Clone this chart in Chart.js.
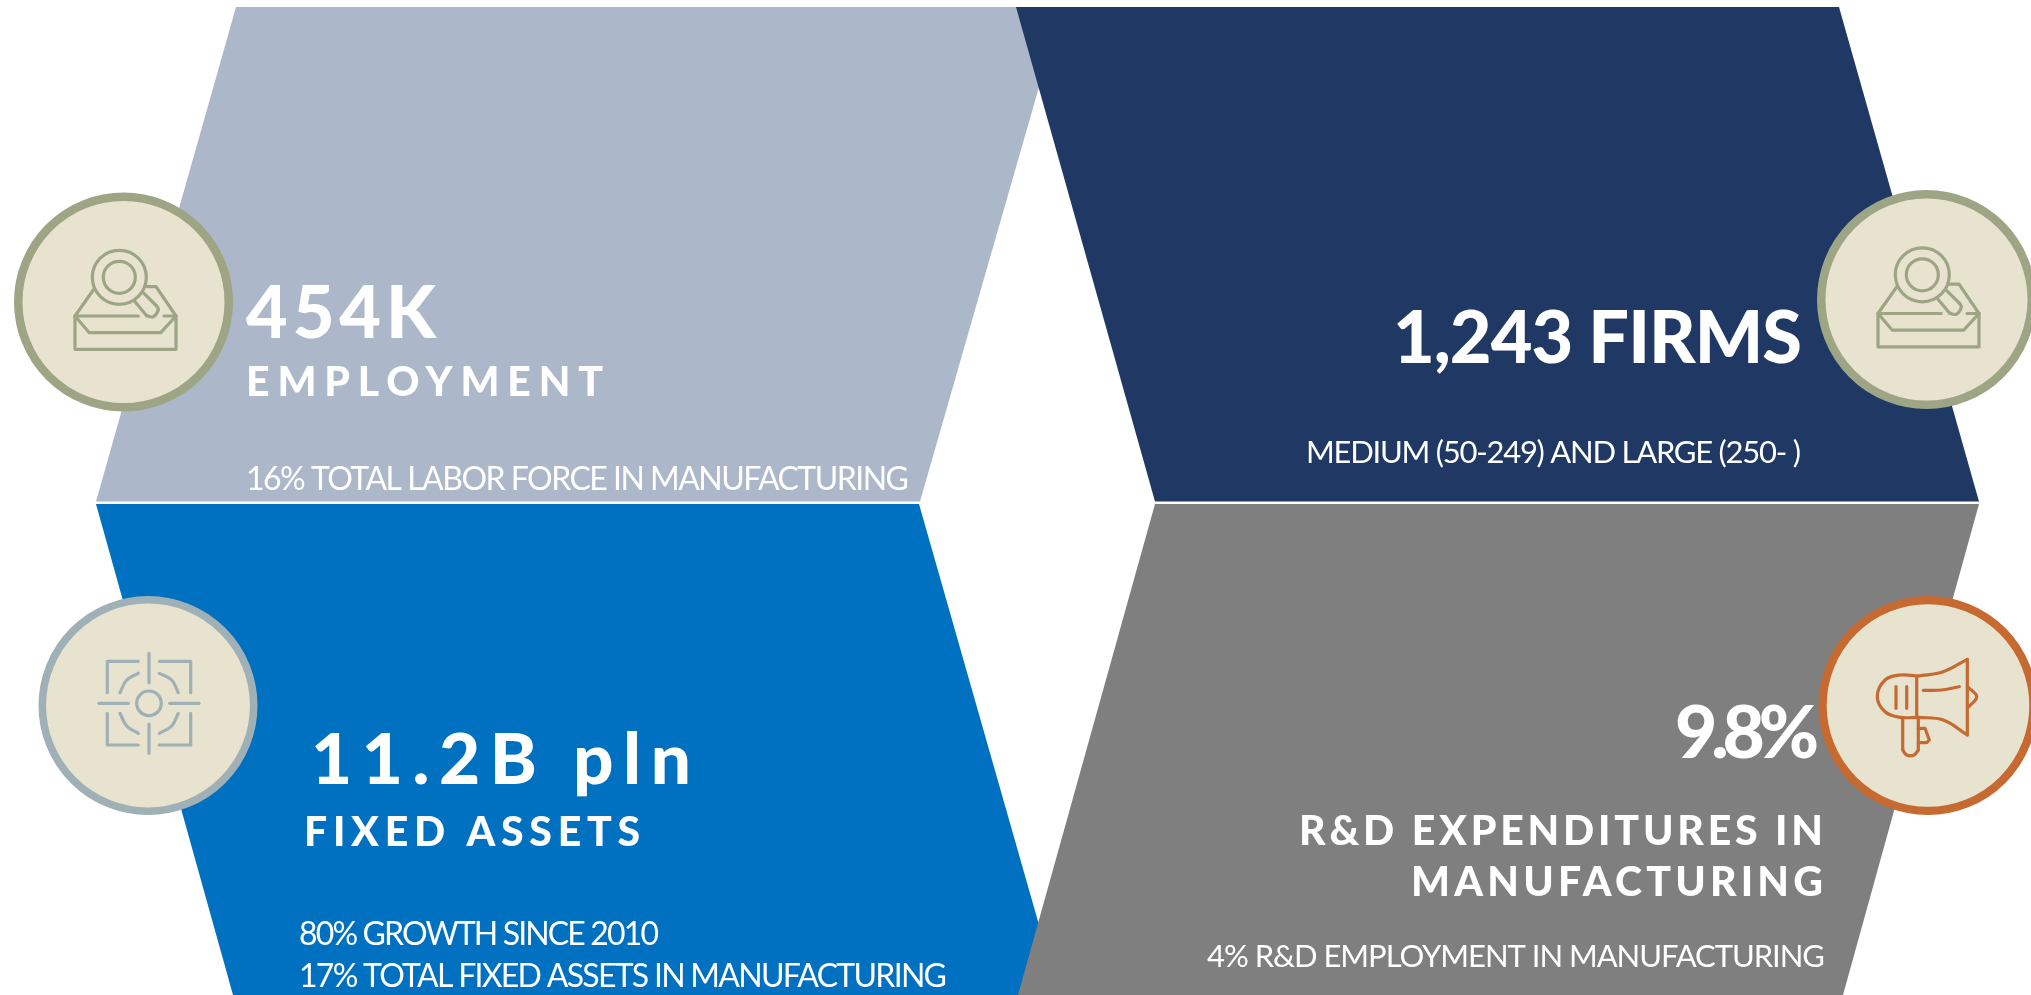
<!DOCTYPE html>
<html>
<head>
<meta charset="utf-8">
<title>Manufacturing overview</title>
<script src="https://cdn.jsdelivr.net/npm/chart.js@4"></script>
<style>
    html, body { margin: 0; padding: 0; background: #ffffff; overflow: hidden; }
    canvas { display: block; }
</style>
</head>
<body>
<canvas id="chart-panels" width="2031" height="995"></canvas>
<script>
// Text of the four panels
const headlines = ["454K", "1,243 FIRMS", "11.2B pln", "9.8%"];
const titles = ["EMPLOYMENT", "FIXED ASSETS", "R&D EXPENDITURES IN", "MANUFACTURING"];
const notes = [
    "16% TOTAL LABOR FORCE IN MANUFACTURING",
    "MEDIUM (50-249) AND LARGE (250- )",
    "80% GROWTH SINCE 2010",
    "17% TOTAL FIXED ASSETS IN MANUFACTURING",
    "4% R&D EMPLOYMENT IN MANUFACTURING"
];

// Panel outlines, in axis units
const employmentPanel = [[236, 7], [1062, 7], [920, 501.5], [96, 501.5]];
const firmsPanel = [[1016, 7], [1839, 7], [1979, 501.5], [1155, 501.5]];
const assetsPanel = [[96, 504], [919, 504], [1059, 995], [233, 995]];
const researchPanel = [[1155, 504], [1979, 504], [1843, 995], [1018, 995]];

// Badge centres
const badgeCentres = [[123.5, 302], [1926.5, 299.5], [148, 705.5], [1928, 705.5]];

// Icon strokes, as offsets from the badge centre
const boxStraight = [
    [[-30.2, -12], [-48.5, 14], [14.8, 14]],
    [[23.2, -15.3], [32.5, -15.3], [52.5, 14], [40.5, 14]],
    [[-48.5, 14], [-48.5, 47.3], [52.5, 47.3], [52.5, 14]],
    [[-48.5, 14], [-34.2, 30.7], [37.2, 30.7], [52.5, 14]],
    [[11.5, -0.3], [23.2, 13.7]],
    [[20.5, -8.7], [33.2, 4]]
];
const boxCurved = [[[23.2, 13.7], [29.8, 14.7], [34.8, 8], [33.2, 4]]];
const boxRings = [[-4.2, -24.7, 27], [-4.2, -24.7, 16]];

const targetStraight = [
    [[1, -52.2], [1, -22.8]],
    [[1, 18.5], [1, 47.8]],
    [[-49, -2.2], [-19.7, -2.2]],
    [[21.7, -2.2], [51, -2.2]],
    [[-40.7, -12.8], [-40.7, -44.2], [-9.7, -44.2]],
    [[11.3, -44.2], [42.7, -44.2], [42.7, -12.8]],
    [[-40.7, 7.8], [-40.7, 39.5], [-9.7, 39.5]],
    [[11.3, 39.5], [42.7, 39.5], [42.7, 7.8]]
];
const targetCurved = [
    [[-28, -12.8], [-21.3, -25.5], [-9.7, -32.2]],
    [[11.3, -32.2], [23.7, -25.5], [30.3, -12.8]],
    [[-28, 7.8], [-21.3, 20.5], [-9.7, 27.8]],
    [[11.3, 27.8], [23.7, 20.5], [30.3, 7.8]]
];
const targetRings = [[1, -2.2, 12.3]];

const hornStraight = [
    [[-11.3, -29.5], [-11.3, 11.8]],
    [[39.3, -46.2], [39.3, 29.5]],
    [[-32, -18.8], [-32, 2.8]],
    [[-21.3, -18.8], [-21.3, 2.8]],
    [[-25.3, 12.8], [-25.3, 44.5]],
    [[-9.7, 12.8], [-9.7, 44.5]],
    [[-9.7, 22.8], [-3, 22.8], [1.3, 34.5], [-1.3, 37.2], [-9.7, 37.2]]
];
const hornCurved = [
    [[-9.7, -29.5], [-28, -30.5], [-43, -25.5], [-50.7, -8.8], [-43, 6.2], [-28, 11.8], [-9.7, 11.8]],
    [[-9.7, -29.5], [15.3, -33.8], [39.3, -46.2]],
    [[-9.7, 11.8], [15.3, 14.5], [39.3, 29.5]],
    [[-4.7, -15.2], [13.7, -15.5], [31.3, -18.8]],
    [[40.3, -18.2], [48.7, -8.8], [40.3, 1.8]],
    [[-25.3, 44.5], [-21.3, 49.5], [-14, 49.5], [-9.7, 44.5]]
];

const toPoints = (pairs, dx = 0, dy = 0) => pairs.map(p => ({ x: p[0] + dx, y: p[1] + dy }));

const datasets = [];

function addPanel(outline, color) {
    datasets.push({
        data: toPoints(outline),
        showLine: true,
        fill: "shape",
        backgroundColor: color,
        borderWidth: 0,
        pointRadius: 0,
        order: 100 - datasets.length
    });
}

function addBadge(centre, stroke, strokeWidth) {
    datasets.push({
        data: toPoints([centre]),
        pointRadius: 109.5 - strokeWidth / 2,
        pointBackgroundColor: "#e7e3cf",
        pointBorderColor: stroke,
        pointBorderWidth: strokeWidth,
        order: 50
    });
}

function addStrokes(strokes, centre, color, tension) {
    strokes.forEach(stroke => {
        datasets.push({
            data: toPoints(stroke, centre[0], centre[1]),
            showLine: true,
            fill: false,
            tension: tension,
            borderColor: color,
            borderWidth: 3.2,
            borderCapStyle: "round",
            borderJoinStyle: "round",
            pointRadius: 0,
            order: 10
        });
    });
}

function addRings(rings, centre, color) {
    rings.forEach(ring => {
        datasets.push({
            data: toPoints([[ring[0], ring[1]]], centre[0], centre[1]),
            pointRadius: ring[2],
            pointBackgroundColor: "rgba(0,0,0,0)",
            pointBorderColor: color,
            pointBorderWidth: 3.2,
            order: 10
        });
    });
}

function addIcon(straight, curved, rings, centre, color) {
    addStrokes(straight, centre, color, 0);
    addStrokes(curved, centre, color, 0.4);
    addRings(rings, centre, color);
}

addPanel(employmentPanel, "#acb8ca");
addPanel(firmsPanel, "#203864");
addPanel(assetsPanel, "#0070c0");
addPanel(researchPanel, "#7f7f7f");

addBadge(badgeCentres[0], "#9ea585", 8.5);
addBadge(badgeCentres[1], "#9ea585", 8.5);
addBadge(badgeCentres[2], "#9fb0b6", 7.6);
addBadge(badgeCentres[3], "#c76a31", 8.2);

addIcon(boxStraight, boxCurved, boxRings, badgeCentres[0], "#9ea585");
addIcon(boxStraight, boxCurved, boxRings, badgeCentres[1], "#9ea585");
addIcon(targetStraight, targetCurved, targetRings, badgeCentres[2], "#9fb0b6");
addIcon(hornStraight, hornCurved, [], badgeCentres[3], "#c76a31");

// left edge, right edge, baseline, font size, weight for each line of text
const textLines = [
    [headlines[0], 246, 436, 338, 72, 900],
    [titles[0], 246, 603, 396, 41, 900],
    [notes[0], 246, 909, 490, 32, 400],
    [headlines[1], 1393, 1802, 363, 72, 900],
    [notes[1], 1306, 1801, 463, 31, 400],
    [headlines[2], 311, 691, 784, 71, 900],
    [titles[1], 304, 640, 846, 41, 900],
    [notes[2], 299, 659, 945, 32, 400],
    [notes[3], 299, 947, 987, 32, 400],
    [headlines[3], 1675, 1819, 758, 73, 900],
    [titles[2], 1299, 1823, 845, 41, 900],
    [titles[3], 1411, 1823, 896, 41, 900],
    [notes[4], 1207, 1825, 967, 31, 400]
];

const panelText = {
    id: "panelText",
    afterDraw(chart) {
        const { ctx, scales } = chart;
        ctx.save();
        ctx.fillStyle = "#ffffff";
        ctx.textBaseline = "alphabetic";
        textLines.forEach(([text, left, right, baseline, size, weight]) => {
            const x0 = scales.x.getPixelForValue(left);
            const x1 = scales.x.getPixelForValue(right);
            ctx.font = `${weight} ${size}px Lato`;
            ctx.letterSpacing = "0px";
            // Squeeze or stretch the letters so the line spans the same width as the original
            const spacing = (x1 - x0 - ctx.measureText(text).width) / (text.length - 1);
            ctx.letterSpacing = `${spacing}px`;
            ctx.fillText(text, x0, scales.y.getPixelForValue(baseline));
        });
        ctx.restore();
    }
};

new Chart(document.getElementById("chart-panels"), {
    type: "scatter",
    data: { datasets: datasets },
    options: {
        responsive: false,
        animation: false,
        layout: { padding: 0, autoPadding: false },
        events: [],
        plugins: {
            legend: { display: false },
            tooltip: { enabled: false },
            title: { display: false }
        },
        scales: {
            x: { type: "linear", min: 0, max: 2031, display: false },
            y: { type: "linear", min: 0, max: 995, reverse: true, display: false }
        }
    },
    plugins: [panelText]
});
</script>
</body>
</html>
